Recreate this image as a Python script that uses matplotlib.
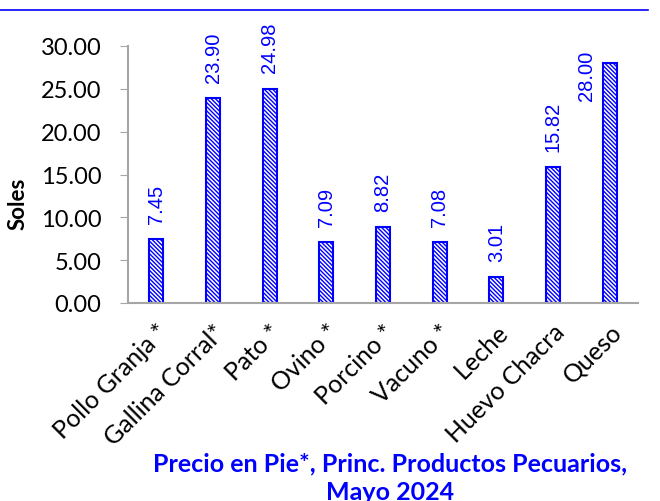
import numpy as np
import matplotlib
matplotlib.use("Agg")
import matplotlib.pyplot as plt
from matplotlib.lines import Line2D
from matplotlib.ticker import FormatStrFormatter

productos = ["Pollo Granja *", "Gallina Corral*", "Pato *", "Ovino *", "Porcino *",
             "Vacuno *", "Leche", "Huevo Chacra", "Queso"]
precios = [7.45, 23.90, 24.98, 7.09, 8.82, 7.08, 3.01, 15.82, 28.00]
yticks = [0, 5, 10, 15, 20, 25, 30]

azul = "#0000FF"
gris = "#A6A6A6"
plt.rcParams['font.family'] = ['Lato', 'DejaVu Sans']
plt.rcParams['hatch.linewidth'] = 1.0
plt.rcParams['hatch.color'] = azul

fig = plt.figure(figsize=(6.6, 5.02), dpi=100)
ax = fig.add_axes([128/660, 1 - 304/502, 510/660, 257/502])

x = np.arange(len(productos))
bars = ax.bar(x, precios, width=0.25, color="white", edgecolor=azul,
              linewidth=1.5, hatch="\\\\\\\\\\\\\\\\")

for xi, v in zip(x, precios):
    if v > 26:
        # no cabe arriba: va al costado de la barra
        ax.annotate(f"{v:.2f}", (xi, v), xytext=(-16.5, 9.5), textcoords="offset points",
                    rotation=90, ha="center", va="top", color=azul, fontsize=14.5,
                    family="Liberation Sans", annotation_clip=False)
    else:
        ax.annotate(f"{v:.2f}", (xi, v), xytext=(0, 12), textcoords="offset points",
                    rotation=90, ha="center", va="bottom", color=azul, fontsize=14.5,
                    family="Liberation Sans", annotation_clip=False)

ax.set_xlim(-0.5, len(productos) - 0.5)
ax.set_ylim(0, 30)
ax.set_yticks(yticks)
ax.yaxis.set_major_formatter(FormatStrFormatter("%.2f"))
ax.set_xticks(x)
ax.set_xticklabels(productos, rotation=45, ha="right", rotation_mode="anchor")
ax.tick_params(axis="y", length=6, color=gris, labelsize=17, pad=13)
ax.tick_params(axis="x", length=0, labelsize=18, pad=12)

for s in ["top", "right"]:
    ax.spines[s].set_visible(False)
for s in ["left", "bottom"]:
    ax.spines[s].set_color(gris)
    ax.spines[s].set_linewidth(1.5)

fig.text(18/660, 1 - 204/502, "Soles", rotation=90, ha="center", va="center",
         fontsize=16, fontweight="bold")
fig.text(390/660, 1 - 478/502, "Precio en Pie*, Princ. Productos Pecuarios,\nMayo 2024",
         ha="center", va="center", color=azul, fontsize=18, fontweight="bold",
         linespacing=1.3)

fig.add_artist(Line2D([0, 648/660], [1 - 11/502, 1 - 11/502], color=azul, lw=1.2))

fig.savefig("out.png", dpi=100)
